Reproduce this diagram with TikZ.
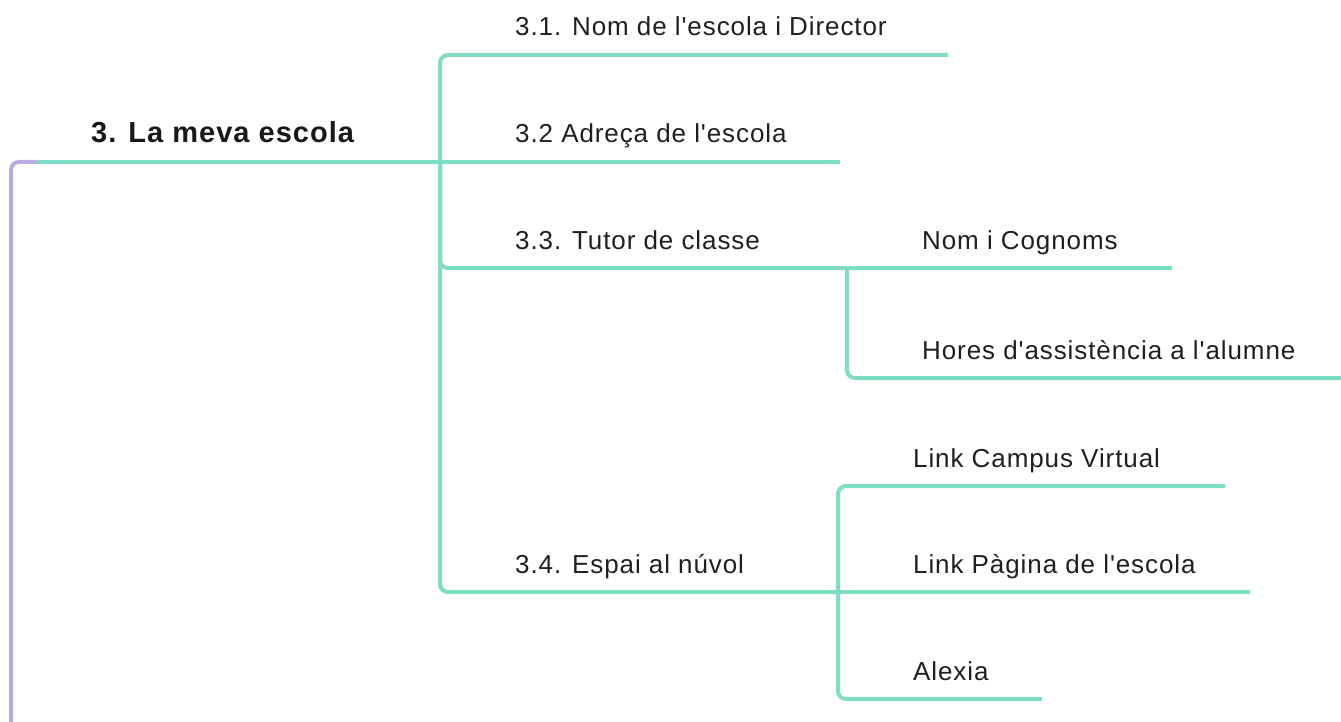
\documentclass[tikz,border=0pt]{standalone}
\usepackage{fontspec}
\setmainfont{Liberation Sans}[Ligatures=TeXOff,LetterSpace=3.5]
\newfontfamily\titlefont{Liberation Sans}[Ligatures=TeXOff,LetterSpace=3.5,BoldFont={Liberation Sans Bold}]
\definecolor{tealc}{RGB}{125,222,196}
\definecolor{purplec}{RGB}{185,170,224}
\tikzset{
  branch/.style={draw=tealc, line width=4pt, rounded corners=8pt},
  rootline/.style={draw=purplec, line width=4pt, rounded corners=8pt},
  lbl/.style={anchor=base west, inner sep=0pt, text=black!88, font=\fontsize{26}{31}\selectfont},
  titlelbl/.style={anchor=base west, inner sep=0pt, text=black!90, font=\titlefont\bfseries\fontsize{29}{34}\selectfont},
}
\begin{document}
\begin{tikzpicture}[x=1pt,y=-1pt]
\path[use as bounding box] (0,0) rectangle (1341,722);
% labels
\node[titlelbl] (root) at (91,143) {3. La meva escola};
\node[lbl] (n31) at (515,36) {3.1. Nom de l'escola i Director};
\node[lbl] (n32) at (515,143) {3.2 Adreça de l'escola};
\node[lbl] (n33) at (515,249) {3.3. Tutor de classe};
\node[lbl] (n34) at (515,573) {3.4. Espai al núvol};
\node[lbl] (n331) at (922,249) {Nom i Cognoms};
\node[lbl] (n332) at (922,359) {Hores d'assistència a l'alumne};
\node[lbl] (n341) at (913,467) {Link Campus Virtual};
\node[lbl] (n342) at (913,573) {Link Pàgina de l'escola};
\node[lbl] (n343) at (913,680) {Alexia};
% coordinates
\coordinate (pbot) at (11,722);
\coordinate (pjoin) at (37,162);
\coordinate (e32) at (840,162);
\coordinate (hub) at (440,162);
\coordinate (e31) at (948,55);
\coordinate (e33) at (1172,268);
\coordinate (e34) at (1250,592);
\coordinate (hub33) at (847,268);
\coordinate (e332) at (1341,378);
\coordinate (hub34) at (838,592);
\coordinate (e341) at (1225,486);
\coordinate (e343) at (1042,699);
% connectors
\draw[rootline] (pbot) |- (pjoin);
\draw[branch] (pjoin) -- (e32);
\draw[branch] (e31) -| (hub) |- (e34);
\draw[branch] (hub) |- (e33);
\draw[branch] (hub33) |- (e332);
\draw[branch] (e341) -| (hub34) |- (e343);
\end{tikzpicture}
\end{document}
